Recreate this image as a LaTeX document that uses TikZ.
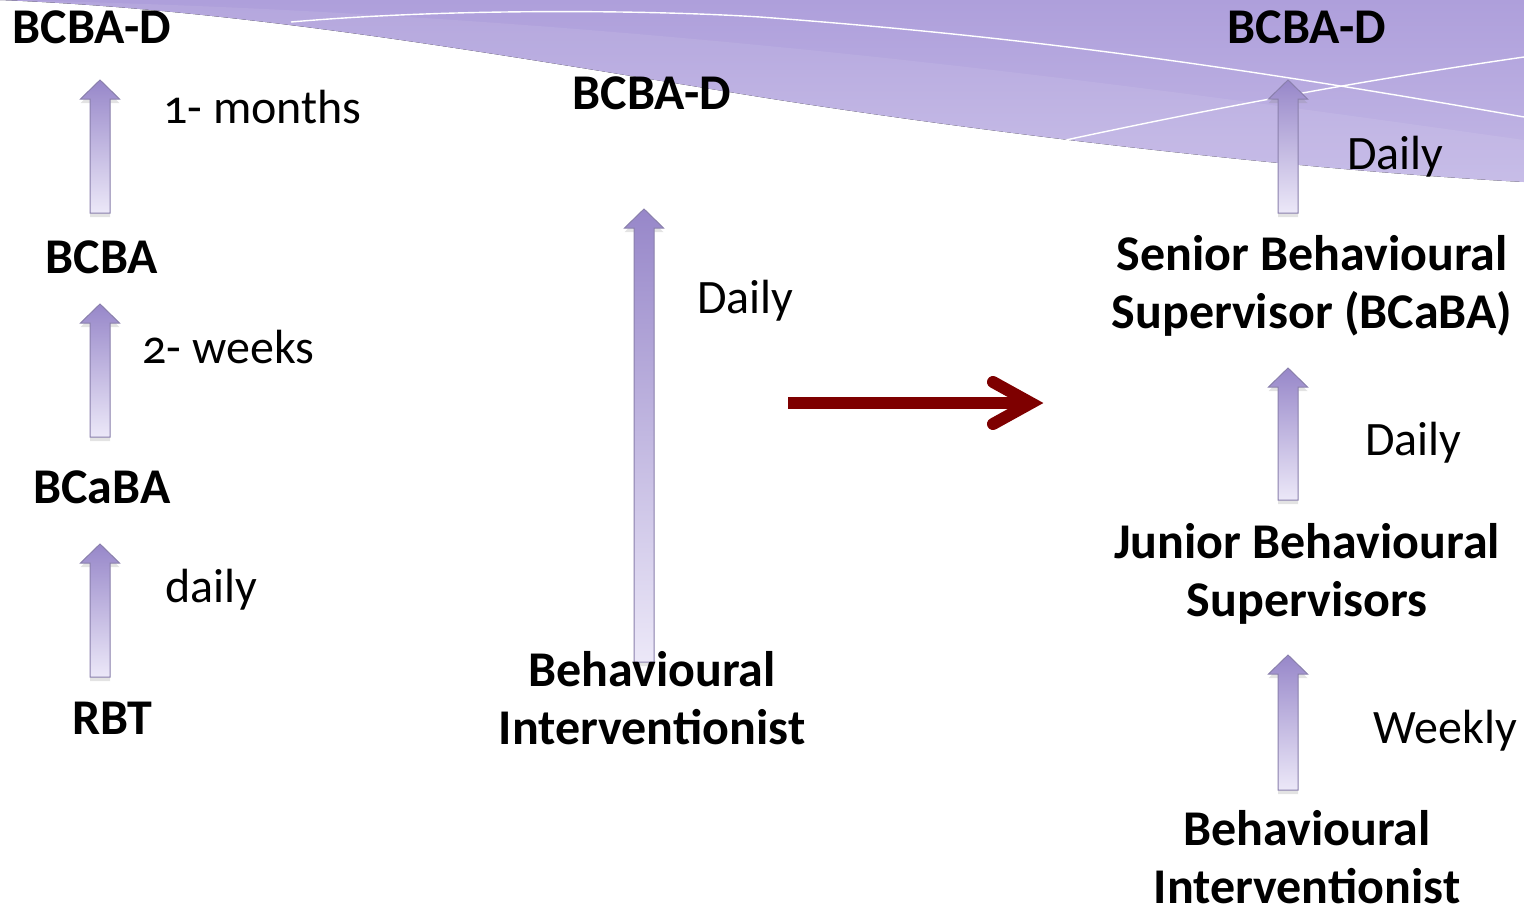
\documentclass[tikz,border=0pt]{standalone}
\usepackage{fontspec}
\setmainfont{Carlito}[Numbers=OldStyle]
\usetikzlibrary{shadows}
\definecolor{wavetop}{HTML}{AE9FDB}
\definecolor{wavelow}{HTML}{C4B9E6}
\definecolor{arrtop}{HTML}{9787C9}
\definecolor{arrbot}{HTML}{ECE8F8}
\definecolor{arredge}{HTML}{8A80AC}
\definecolor{redarrow}{HTML}{7E0000}

% block arrow pointing up from coordinate #2 (foot) to coordinate #1 (tip)
\newcommand\blockarrow[2]{%
  \path[blockup] ([xshift=-5pt]#2) -- ([xshift=-5pt,yshift=-9.5pt]#1)
    -- ([xshift=-9.75pt,yshift=-9.5pt]#1) -- (#1)
    -- ([xshift=9.75pt,yshift=-9.5pt]#1) -- ([xshift=5pt,yshift=-9.5pt]#1)
    -- ([xshift=5pt]#2) -- cycle;}

\begin{document}
\begin{tikzpicture}[x=0.5pt,y=-0.5pt,
  lbl/.style={font=\fontsize{25}{29}\selectfont\bfseries, align=center, inner sep=0pt},
  note/.style={font=\fontsize{24}{29}\selectfont, anchor=west, inner sep=0pt},
  blockup/.style={draw=arredge, line width=0.5pt, line join=miter,
    top color=arrtop, bottom color=arrbot,
    drop shadow={opacity=0.22, shadow xshift=0pt, shadow yshift=-2pt}},
  redline/.style={draw=redarrow, line width=6pt},
]
\useasboundingbox (0,0) rectangle (1524,911);

% purple wave along the top edge
\begin{scope}
  \clip (0,0) -- (1524,0) -- (1524,182)
    .. controls (1300,170) and (1000,135) .. (760,97)
    .. controls (500,55) and (250,10) .. (0,0) -- cycle;
  \fill[top color=wavetop, bottom color=wavelow] (0,0) rectangle (1524,190);
  \fill[white, opacity=0.08] (0,0) .. controls (600,12) and (1100,80) .. (1524,140)
    -- (1524,200) -- (0,200) -- cycle;
  \draw[white, line width=0.7pt] (291,22) .. controls (450,8) and (650,10) .. (760,17)
    .. controls (1000,35) and (1200,60) .. (1524,117);
  \draw[white, line width=0.7pt] (1052,143) .. controls (1250,100) and (1400,75) .. (1524,57);
\end{scope}

% arrow end points
\coordinate (la1t) at (100,80);   \coordinate (la1b) at (100,213);
\coordinate (la2t) at (100,304);  \coordinate (la2b) at (100,437);
\coordinate (la3t) at (100,544);  \coordinate (la3b) at (100,677);
\coordinate (ma1t) at (644,209);  \coordinate (ma1b) at (644,662);
\coordinate (ra1t) at (1288,80);  \coordinate (ra1b) at (1288,213);
\coordinate (ra2t) at (1288,368); \coordinate (ra2b) at (1288,500);
\coordinate (ra3t) at (1288,655); \coordinate (ra3b) at (1288,790);

\blockarrow{la1t}{la1b}
\blockarrow{la2t}{la2b}
\blockarrow{la3t}{la3b}
\blockarrow{ma1t}{ma1b}
\blockarrow{ra1t}{ra1b}
\blockarrow{ra2t}{ra2b}
\blockarrow{ra3t}{ra3b}

% left column
\node[lbl] (bcbadL) at (92,27) {BCBA-D};
\node[note] (monthsL) at (163,107) {1- months};
\node[lbl] (bcbaL) at (102,257) {BCBA};
\node[note] (weeksL) at (142,347) {2- weeks};
\node[lbl] (bcabaL) at (102,487) {BCaBA};
\node[note] (dailyL) at (165,590) {daily};
\node[lbl] (rbtL) at (112,718) {RBT};

% middle column
\node[lbl] (bcbadM) at (652,93) {BCBA-D};
\node[note] (dailyM) at (697,301) {Daily};
\node[lbl] (biM) at (652,698) {Behavioural\\Interventionist};

% transition arrow
\coordinate (rs) at (788,403);
\coordinate (re) at (1031,403);
\draw[redline] (rs) -- (re);
\draw[redline, line cap=round, miter limit=10] ([shift={(-38,-21)}]re) -- (re) -- ([shift={(-38,21)}]re);

% right column
\node[lbl] (bcbadR) at (1307,27) {BCBA-D};
\node[note] (dailyR1) at (1347,157) {Daily};
\node[lbl] (sbsR) at (1312,286) {Senior Behavioural\\Supervisor (BCaBA)};
\node[note] (dailyR2) at (1365,443) {Daily};
\node[lbl] (jbsR) at (1307,574) {Junior Behavioural\\Supervisors};
\node[note] (weeklyR) at (1373,731) {Weekly};
\node[lbl] (biR) at (1307,857) {Behavioural\\Interventionist};
\end{tikzpicture}
\end{document}
